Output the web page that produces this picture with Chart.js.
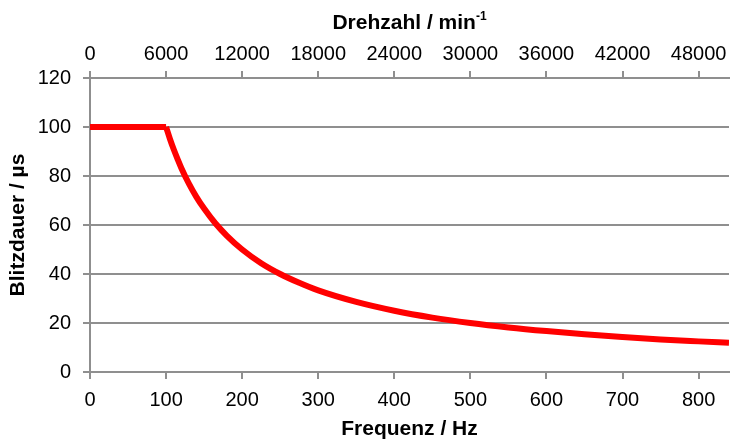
<!DOCTYPE html>
<html>
<head>
<meta charset="utf-8">
<script src="https://cdn.jsdelivr.net/npm/chart.js@4/dist/chart.umd.min.js"></script>
<style>
  html, body { margin: 0; padding: 0; background: #fff; }
  #wrap { width: 732px; height: 442px; }
</style>
</head>
<body>
<div id="wrap"><canvas id="chart" width="732" height="442"></canvas></div>
<script>
// frequency in Hz and flash duration in microseconds
const freqHz = [0, 100, 105, 110, 115, 120, 130, 140, 150, 165, 180, 200, 225, 250, 275, 300, 350, 400, 450, 500, 550, 600, 650, 700, 750, 800, 840];
const blitzUs = [100, 100, 95.2, 90.9, 87, 83.3, 76.9, 71.4, 66.7, 60.6, 55.6, 50, 44.4, 40, 36.4, 33.3, 28.6, 25, 22.2, 20, 18.2, 16.7, 15.4, 14.3, 13.3, 12.5, 11.9];

const hzTicks = [0, 100, 200, 300, 400, 500, 600, 700, 800];
const rpmTicks = [0, 6000, 12000, 18000, 24000, 30000, 36000, 42000, 48000];
const usTicks = [0, 20, 40, 60, 80, 100, 120];

const gray = "#8f8f8f";
const fam = "'Liberation Sans', Arial, sans-serif";
const tickFont = { family: fam, size: 20 };
const titleFont = { family: fam, size: 21, weight: "bold" };

const points = freqHz.map((f, i) => ({ x: f, y: blitzUs[i] }));
const flatPart = points.filter(p => p.x <= 100);
const curvePart = points.filter(p => p.x >= 100);

// top title with superscript exponent
const topTitle = {
    id: "topTitle",
    afterDraw(chart) {
        const ctx = chart.ctx;
        const area = chart.chartArea;
        const main = "Drehzahl / min";
        const sup = "-1";
        ctx.save();
        ctx.fillStyle = "#000";
        ctx.textBaseline = "alphabetic";
        ctx.font = "bold 21px " + fam;
        const w1 = ctx.measureText(main).width;
        ctx.font = "bold 12px " + fam;
        const w2 = ctx.measureText(sup).width;
        const x0 = (area.left + area.right) / 2 - (w1 + w2) / 2;
        ctx.font = "bold 21px " + fam;
        ctx.fillText(main, x0, 29);
        ctx.font = "bold 12px " + fam;
        ctx.fillText(sup, x0 + w1, 20);
        ctx.restore();
    }
};

const noPad = s => { s.paddingLeft = 0; s.paddingRight = 0; };
const plain = v => String(v);

new Chart(document.getElementById("chart").getContext("2d"), {
    type: "scatter",
    data: {
        datasets: [{
            data: flatPart,
            showLine: true,
            borderColor: "#ff0000",
            borderWidth: 6,
            pointRadius: 0,
            tension: 0
        }, {
            data: curvePart,
            showLine: true,
            borderColor: "#ff0000",
            borderWidth: 6,
            pointRadius: 0,
            cubicInterpolationMode: "monotone"
        }]
    },
    options: {
        responsive: false,
        animation: false,
        layout: { padding: { right: 3, top: 0, left: 0, bottom: 0 } },
        plugins: {
            legend: { display: false },
            tooltip: { enabled: false }
        },
        scales: {
            x: {
                type: "linear",
                position: "bottom",
                min: 0,
                max: 840,
                afterBuildTicks: s => { s.ticks = hzTicks.map(v => ({ value: v })); },
                afterFit: s => { s.height = 70; noPad(s); },
                grid: { drawOnChartArea: false, drawTicks: true, tickLength: 7, color: gray, lineWidth: 2 },
                border: { display: true, color: gray, width: 2 },
                ticks: { color: "#000", font: tickFont, padding: 9, maxRotation: 0, callback: plain },
                title: { display: true, text: "Frequenz / Hz", color: "#000", font: titleFont, padding: { top: 0, bottom: 0 } }
            },
            x2: {
                type: "linear",
                position: "top",
                min: 0,
                max: 50400,
                afterBuildTicks: s => { s.ticks = rpmTicks.map(v => ({ value: v })); },
                afterFit: s => { s.height = 78; noPad(s); },
                grid: { drawOnChartArea: false, drawTicks: true, tickLength: 7, color: gray, lineWidth: 2 },
                border: { display: true, color: gray, width: 2 },
                ticks: { color: "#000", font: tickFont, padding: 5, maxRotation: 0, autoSkip: false, callback: plain },
                title: { display: false }
            },
            y: {
                type: "linear",
                position: "left",
                min: 0,
                max: 120,
                afterBuildTicks: s => { s.ticks = usTicks.map(v => ({ value: v })); },
                afterFit: s => { s.width = 90; },
                grid: { drawOnChartArea: true, drawTicks: true, tickLength: 7, color: gray, lineWidth: 2 },
                border: { display: true, color: gray, width: 2 },
                ticks: { color: "#000", font: tickFont, padding: 12, callback: plain },
                title: { display: true, text: "Blitzdauer / µs", color: "#000", font: titleFont, padding: { top: 6, bottom: 0 } }
            }
        }
    },
    plugins: [topTitle]
});
</script>
</body>
</html>
